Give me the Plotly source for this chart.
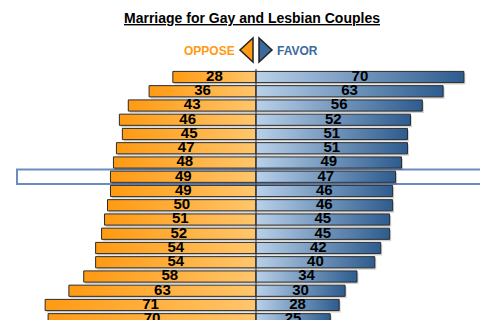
import plotly.graph_objects as go

rows = list(range(18))
oppose = [28, 36, 43, 46, 45, 47, 48, 49, 49, 50, 51, 52, 54, 54, 58, 63, 71, 70]
favor = [70, 63, 56, 52, 51, 51, 49, 47, 46, 46, 45, 45, 42, 40, 34, 30, 28, 25]
highlight_row = 7

W, H = 480, 320
cx = 256.0        # px of zero line
ppu = 2.97        # px per unit
y0px = 77.0       # px centre of first row
pitch = 14.25
half = 5.6 / pitch

xr = [-cx / ppu, (W - cx) / ppu]
yr = [(H - y0px) / pitch, -y0px / pitch]

OR_DARK, OR_LIGHT = "#FF9A12", "#FFC66C"
BL_LIGHT, BL_DARK = "#B9D1EA", "#2D5C8F"

fig = go.Figure()

def bar(x0, x1, y, scale, shadow=False):
    dx = 1.5 / ppu if shadow else 0
    dy = 1.8 / pitch if shadow else 0
    xs = [x0 + dx, x1 + dx, x1 + dx, x0 + dx, x0 + dx]
    ys = [y - half + dy, y - half + dy, y + half + dy, y + half + dy, y - half + dy]
    if shadow:
        fig.add_trace(go.Scatter(x=xs, y=ys, mode="lines", fill="toself",
                                 fillcolor="rgba(0,0,0,0.18)", line=dict(width=0),
                                 hoverinfo="skip", showlegend=False))
    else:
        fig.add_trace(go.Scatter(x=xs, y=ys, mode="lines", fill="toself",
                                 fillgradient=dict(type="horizontal", colorscale=scale),
                                 line=dict(color="#2b2b2b", width=1),
                                 hoverinfo="skip", showlegend=False))

for i, (o, f) in zip(rows, zip(oppose, favor)):
    bar(-o, 0, i, None, shadow=True)
    bar(0, f, i, None, shadow=True)
for i, (o, f) in zip(rows, zip(oppose, favor)):
    bar(-o, 0, i, [[0, OR_DARK], [1, OR_LIGHT]])
    bar(0, f, i, [[0, BL_LIGHT], [1, BL_DARK]])

lab_font = dict(family="Liberation Sans, Arial, sans-serif", size=15, color="black")
fig.add_trace(go.Scatter(x=[-o / 2 for o in oppose], y=rows, mode="text",
                         text=[f"<b>{o}</b>" for o in oppose], textfont=lab_font,
                         textposition="middle center", hoverinfo="skip", showlegend=False))
fig.add_trace(go.Scatter(x=[f / 2 for f in favor], y=rows, mode="text",
                         text=[f"<b>{f}</b>" for f in favor], textfont=lab_font,
                         textposition="middle center", hoverinfo="skip", showlegend=False))

def px(x):
    return x / W

def py(y):
    return 1 - y / H

shapes = []
# highlight box behind the highlighted row
hy = highlight_row
shapes.append(dict(type="rect", xref="paper", yref="y", x0=px(17), x1=px(495),
                   y0=hy - 7.2 / pitch, y1=hy + 7.2 / pitch,
                   line=dict(color="#6A8CBE", width=2), fillcolor="white", layer="below"))
# centre line
shapes.append(dict(type="line", xref="x", yref="paper", x0=0, x1=0, y0=py(69), y1=0,
                   line=dict(color="#333333", width=1), layer="above"))
# legend triangles
def tri(pts, fill):
    p = "M " + " L ".join(f"{px(a)},{py(b)}" for a, b in pts) + " Z"
    return dict(type="path", xref="paper", yref="paper", path=p, fillcolor=fill,
                line=dict(color="#222222", width=1.5))
shapes.append(tri([(253, 38), (253, 62), (240, 50)], "#FF9A12"))
shapes.append(tri([(259, 38), (259, 62), (272, 50)], "#3A6A9E"))

annotations = [
    dict(text="<b><u>Marriage for Gay and Lesbian Couples</u></b>", xref="paper", yref="paper",
         x=px(252), y=py(18), showarrow=False, xanchor="center", yanchor="middle",
         font=dict(family="Liberation Sans, Arial, sans-serif", size=14, color="black")),
    dict(text="<b>OPPOSE</b>", xref="paper", yref="paper", x=px(237), y=py(51),
         showarrow=False, xanchor="right", yanchor="middle",
         font=dict(family="Liberation Sans, Arial, sans-serif", size=12, color="#FF9A12")),
    dict(text="<b>FAVOR</b>", xref="paper", yref="paper", x=px(275), y=py(51),
         showarrow=False, xanchor="left", yanchor="middle",
         font=dict(family="Liberation Sans, Arial, sans-serif", size=12, color="#3A6A9E")),
]

fig.update_layout(
    width=W, height=H, margin=dict(l=0, r=0, t=0, b=0),
    paper_bgcolor="white", plot_bgcolor="white",
    xaxis=dict(range=xr, visible=False, fixedrange=True),
    yaxis=dict(range=yr, visible=False, fixedrange=True),
    shapes=shapes, annotations=annotations, showlegend=False,
)

fig.write_html("out.html")
